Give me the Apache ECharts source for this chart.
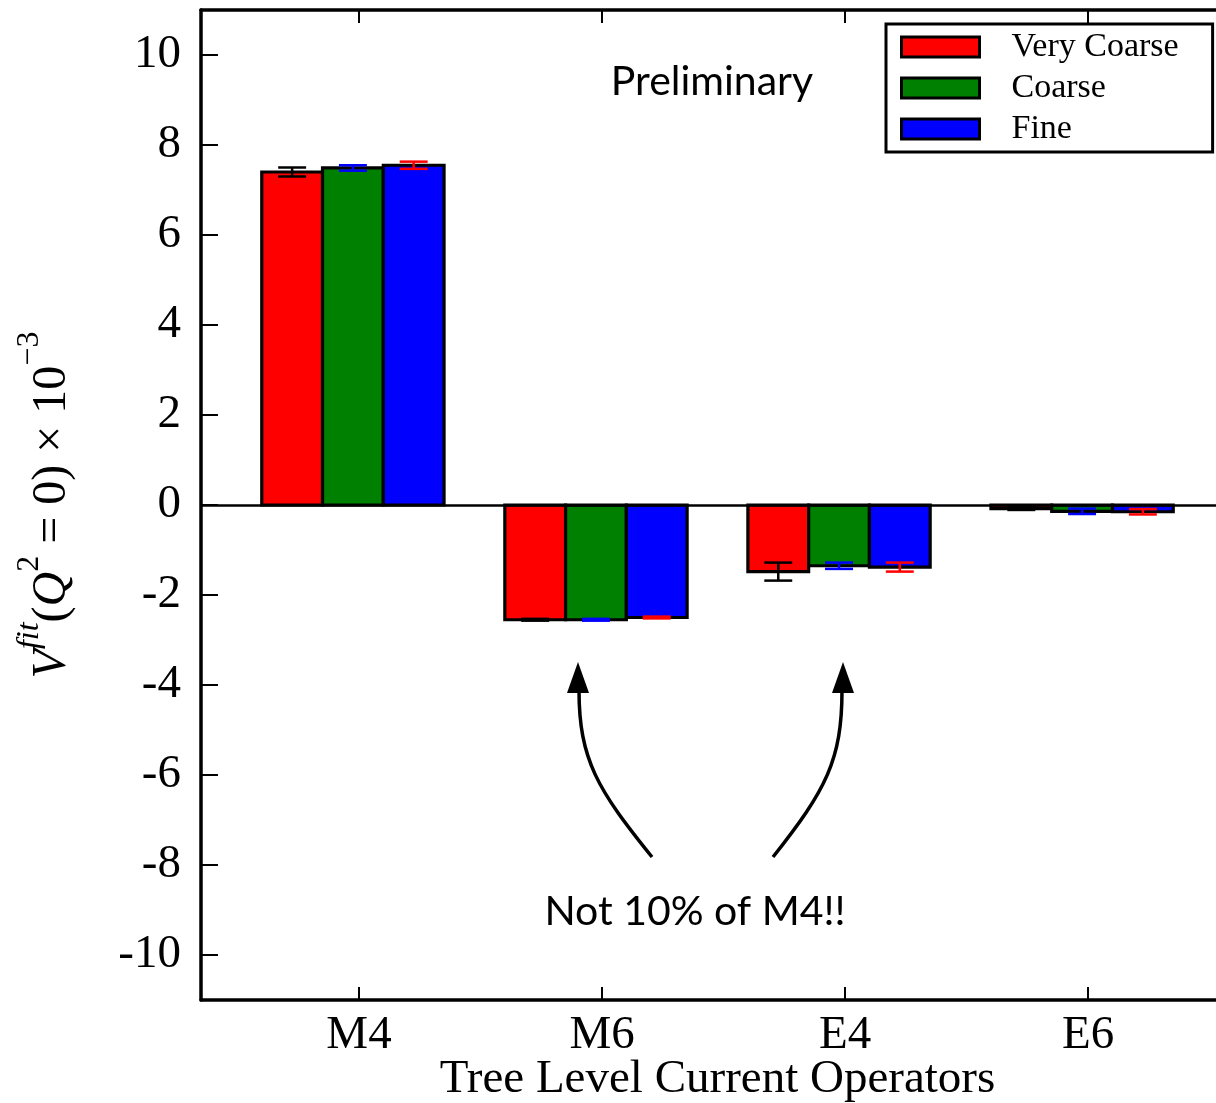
<!DOCTYPE html>
<html>
<head>
<meta charset="utf-8">
<script src="https://cdn.jsdelivr.net/npm/echarts@6/dist/echarts.min.js"></script>
<style>
  html, body { margin: 0; padding: 0; background: #fff; }
  #chart { width: 1216px; height: 1103px; }
</style>
</head>
<body>
<div id="chart"></div>
<script>
// ---- data ----
const categories = ['M4', 'M6', 'E4', 'E6'];
const seriesNames = ['Very Coarse', 'Coarse', 'Fine'];
const veryCoarse    = [7.40, -2.55, -1.48, -0.08];
const veryCoarseErr = [0.10,  0.02,  0.20,  0.03];
const coarse        = [7.49, -2.55, -1.35, -0.14];
const coarseErr     = [0.06,  0.02,  0.07,  0.06];
const fine          = [7.55, -2.50, -1.38, -0.15];
const fineErr       = [0.08,  0.02,  0.10,  0.06];
const yTicks = [-10, -8, -6, -4, -2, 0, 2, 4, 6, 8, 10];

// ---- styling / layout ----
const SERIF = '"Liberation Serif", "Times New Roman", serif';
const SANS = 'Lato, "Open Sans", sans-serif';
const xTicks = categories.map((c, i) => i);
const BAR_W = 0.25;
const CAP_W = 0.115;
const offsets = [-0.275, -0.025, 0.225];
const fills = ['#ff0000', '#008000', '#0000ff'];
const errColors = ['#000000', '#0000ff', '#ff0000'];

function makeRender(offset, fill, errColor) {
  return function (params, api) {
    const x = api.value(0) + offset;
    const v = api.value(1);
    const e = api.value(2);
    const p1 = api.coord([x - BAR_W / 2, v]);
    const p2 = api.coord([x + BAR_W / 2, 0]);
    const cx = api.coord([x, 0])[0];
    const yTop = api.coord([x, v + e])[1];
    const yBot = api.coord([x, v - e])[1];
    const half = api.size([CAP_W, 0])[0] / 2;
    return {
      type: 'group',
      children: [
        {
          type: 'rect',
          shape: {
            x: Math.min(p1[0], p2[0]), y: Math.min(p1[1], p2[1]),
            width: Math.abs(p2[0] - p1[0]), height: Math.abs(p2[1] - p1[1])
          },
          style: { fill: fill, stroke: '#000', lineWidth: 3.2, lineJoin: 'miter' }
        },
        { type: 'line', shape: { x1: cx, y1: yTop, x2: cx, y2: yBot },
          style: { stroke: errColor, lineWidth: 2.5 } },
        { type: 'line', shape: { x1: cx - half, y1: yTop, x2: cx + half, y2: yTop },
          style: { stroke: errColor, lineWidth: 2.5 } },
        { type: 'line', shape: { x1: cx - half, y1: yBot, x2: cx + half, y2: yBot },
          style: { stroke: errColor, lineWidth: 2.5 } }
      ]
    };
  };
}

const allVals = [veryCoarse, coarse, fine];
const allErrs = [veryCoarseErr, coarseErr, fineErr];

const series = seriesNames.map((name, k) => {
  const s = {
    name: name,
    type: 'custom',
    xAxisIndex: 0,
    yAxisIndex: 0,
    renderItem: makeRender(offsets[k], fills[k], errColors[k]),
    itemStyle: { color: fills[k], borderColor: '#000', borderWidth: 3 },
    encode: { x: 0, y: 1 },
    data: categories.map((c, i) => [i, allVals[k][i], allErrs[k][i]]),
    z: 3 + k,
    silent: true
  };
  if (k === 0) {
    s.markLine = {
      silent: true,
      symbol: ['none', 'none'],
      label: { show: false },
      lineStyle: { color: '#000', width: 2.5, type: 'solid' },
      data: [{ yAxis: 0 }],
      z: 10
    };
  }
  return s;
});

const xMin = -0.65, xMax = 3.6, yMin = -11, yMax = 11;

const chart = echarts.init(document.getElementById('chart'));
chart.setOption({
  animation: false,
  backgroundColor: '#fff',
  grid: { left: 201, top: 10, width: 1033, height: 990, containLabel: false, outerBoundsMode: 'none' },
  legend: {
    orient: 'vertical',
    left: 886, top: 24,
    padding: [6, 34, 6, 14],
    itemGap: 7,
    itemWidth: 78, itemHeight: 20,
    icon: 'rect',
    backgroundColor: '#fff',
    borderColor: '#000', borderWidth: 3, borderRadius: 0,
    itemStyle: { borderColor: '#000', borderWidth: 3 },
    textStyle: { fontFamily: SERIF, fontSize: 34, color: '#000', padding: [0, 0, 0, 27] },
    data: seriesNames
  },
  xAxis: [
    {
      type: 'value', min: xMin, max: xMax, position: 'bottom',
      axisLine: { show: true, onZero: false, lineStyle: { color: '#000', width: 3.5 } },
      axisTick: { show: true, inside: true, length: 13, customValues: xTicks,
                  lineStyle: { color: '#000', width: 2 } },
      axisLabel: { show: true, customValues: xTicks, margin: 12,
                   formatter: v => categories[Math.round(v)] || '',
                   fontFamily: SERIF, fontSize: 47, color: '#000' },
      splitLine: { show: false },
      name: 'Tree Level Current Operators',
      nameLocation: 'middle', nameGap: 56, nameMoveOverlap: false,
      nameTextStyle: { fontFamily: SERIF, fontSize: 47, color: '#000' }
    },
    {
      type: 'value', min: xMin, max: xMax, position: 'top',
      axisLine: { show: true, onZero: false, lineStyle: { color: '#000', width: 3.5 } },
      axisTick: { show: true, inside: true, length: 13, customValues: xTicks,
                  lineStyle: { color: '#000', width: 2 } },
      axisLabel: { show: false },
      splitLine: { show: false }
    }
  ],
  yAxis: [
    {
      type: 'value', min: yMin, max: yMax, position: 'left',
      axisLine: { show: true, onZero: false, lineStyle: { color: '#000', width: 3.5 } },
      axisTick: { show: true, inside: true, length: 17, customValues: yTicks,
                  lineStyle: { color: '#000', width: 2 } },
      axisLabel: { show: true, customValues: yTicks, margin: 20,
                   formatter: v => String(v),
                   fontFamily: SERIF, fontSize: 47, color: '#000' },
      splitLine: { show: false },
      name: '{v|V}{s|fit}{n|(}{v|Q}{s2|2}{n| = 0) × 10}{s2|−3}',
      nameLocation: 'middle', nameGap: 125, nameRotate: 90, nameMoveOverlap: false,
      nameTextStyle: {
        fontFamily: SERIF, fontSize: 48, color: '#000',
        rich: {
          v: { fontFamily: SERIF, fontStyle: 'italic', fontSize: 48, lineHeight: 62, verticalAlign: 'bottom', color: '#000' },
          n: { fontFamily: SERIF, fontSize: 48, lineHeight: 62, verticalAlign: 'bottom', color: '#000' },
          s: { fontFamily: SERIF, fontStyle: 'italic', fontSize: 32, lineHeight: 30, verticalAlign: 'top', color: '#000' },
          s2: { fontFamily: SERIF, fontSize: 32, lineHeight: 30, verticalAlign: 'top', color: '#000' }
        }
      }
    },
    {
      type: 'value', min: yMin, max: yMax, position: 'right',
      axisLine: { show: true, onZero: false, lineStyle: { color: '#000', width: 3.5 } },
      axisTick: { show: true, inside: true, length: 17, customValues: yTicks,
                  lineStyle: { color: '#000', width: 2 } },
      axisLabel: { show: false },
      splitLine: { show: false }
    }
  ],
  series: series,
  graphic: [
    { type: 'text', x: 712, y: 82, z: 20,
      style: { text: 'Preliminary', font: '41px ' + SANS, fill: '#000',
               textAlign: 'center', textVerticalAlign: 'middle' } },
    { type: 'text', x: 695, y: 912, z: 20,
      style: { text: 'Not 10% of M4!!', font: '41px ' + SANS, fill: '#000',
               textAlign: 'center', textVerticalAlign: 'middle' } },
    { type: 'bezierCurve', z: 20,
      shape: { x1: 652, y1: 857, cpx1: 598, cpy1: 790, cpx2: 579, cpy2: 760, x2: 579, y2: 690 },
      style: { stroke: '#000', lineWidth: 3.5, fill: null } },
    { type: 'polygon', z: 20,
      shape: { points: [[578, 662], [567, 693], [589, 693]] },
      style: { fill: '#000' } },
    { type: 'bezierCurve', z: 20,
      shape: { x1: 773, y1: 857, cpx1: 826, cpy1: 790, cpx2: 842, cpy2: 760, x2: 842, y2: 690 },
      style: { stroke: '#000', lineWidth: 3.5, fill: null } },
    { type: 'polygon', z: 20,
      shape: { points: [[843, 662], [832, 693], [854, 693]] },
      style: { fill: '#000' } }
  ]
});
</script>
</body>
</html>
